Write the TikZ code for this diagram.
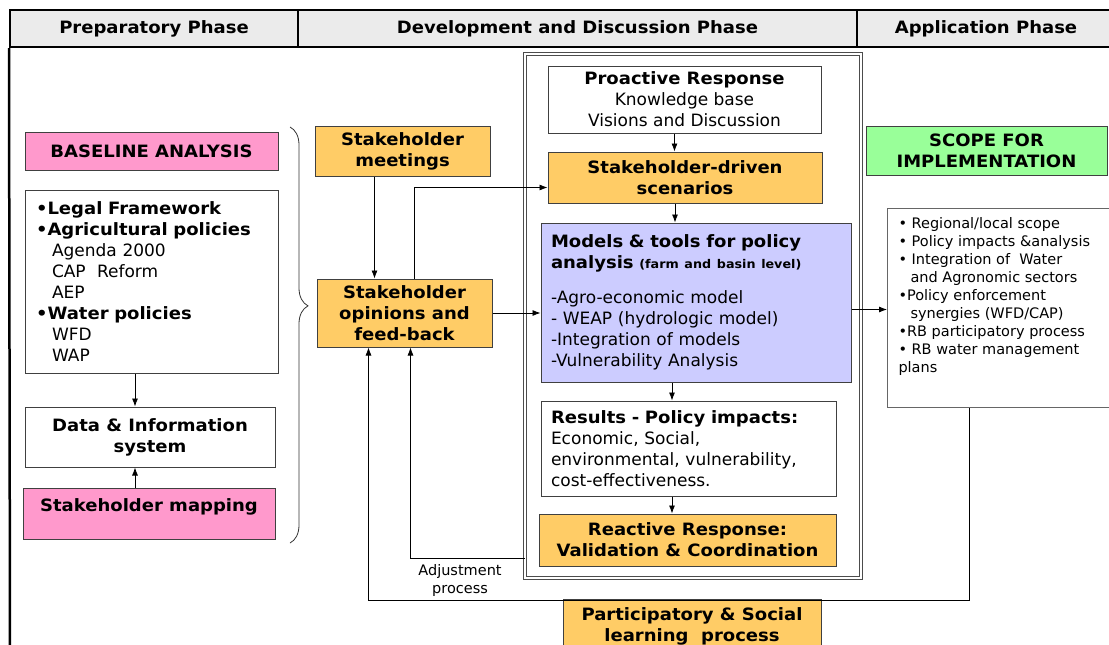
\documentclass[tikz,border=0pt]{standalone}
\usepackage{fontspec}
\setmainfont{DejaVu Sans}[BoldFeatures={FakeStretch=1.06}]
\usepackage{tikz}
\usetikzlibrary{arrows.meta}
\usetikzlibrary{decorations.pathreplacing}
\definecolor{headgray}{HTML}{EBEBEB}
\definecolor{pinkfill}{HTML}{FF99CC}
\definecolor{orangefill}{HTML}{FFCC66}
\definecolor{bluefill}{HTML}{CCCCFF}
\definecolor{greenfill}{HTML}{99FF99}
\newcommand{\mainsize}{\fontsize{17}{21}\selectfont}
\newcommand{\listsize}{\fontsize{14.5}{18}\selectfont}

\begin{document}
\begin{tikzpicture}[x=1pt,y=-1pt,font=\mainsize]
\tikzstyle{phase} = [rectangle, draw=black, line width=2pt, fill=headgray, font=\mainsize\bfseries, minimum height=37, inner sep=0]
\tikzstyle{block} = [rectangle, draw=black!75, line width=1pt, inner sep=0, align=center]
\tikzstyle{pinkbox} = [block, fill=pinkfill, font=\mainsize\bfseries]
\tikzstyle{orangebox} = [block, fill=orangefill, font=\mainsize\bfseries]
\tikzstyle{whitebox} = [block, fill=white]
\tikzstyle{modelbox} = [block, fill=bluefill, align=left]
\tikzstyle{greenbox} = [block, fill=greenfill, font=\mainsize\bfseries]
\tikzstyle{line} = [draw, line width=0.8pt, -{Latex[length=8pt,width=6pt]}]
\useasboundingbox (0,0) rectangle (1109,645);

% phases
\node[phase, minimum width=288] (prep) at (154,28.5) {Preparatory Phase};
\node[phase, minimum width=559] (devel) at (577.5,28.5) {Development and Discussion Phase};
\node[phase, minimum width=258] (appl) at (986,28.5) {Application Phase};
\draw[line width=2.5pt] (prep.south west) -- (10,650);

% preparatory column
\node[pinkbox, minimum width=253, minimum height=38] (base) at (151.5,151) {BASELINE ANALYSIS};
\node[whitebox, minimum width=253, minimum height=183, text width=231, align=left] (legal) at (151.5,281.5)
{\textbf{•Legal Framework}\\
\textbf{•Agricultural policies}\\
\hspace*{16pt}Agenda 2000\\
\hspace*{16pt}CAP\ \ Reform\\
\hspace*{16pt}AEP\\
\textbf{•Water policies}\\
\hspace*{16pt}WFD\\
\hspace*{16pt}WAP};
\node[whitebox, minimum width=250, minimum height=60, font=\mainsize\bfseries] (data) at (150,437) {Data \& Information\\system};
\node[pinkbox, minimum width=252, text height=23, text depth=28, anchor=north] (map) at (149,488) {Stakeholder mapping};
\draw[black!80, line width=0.8pt, decorate, decoration={brace, amplitude=18, aspect=0.43}] (290,127) -- (290,543);

% stakeholders
\node[orangebox, minimum width=175, minimum height=50] (meet) at (402.5,151) {Stakeholder\\meetings};
\node[orangebox, minimum width=175, minimum height=68] (opin) at (404.5,313) {Stakeholder\\opinions and\\feed-back};

% development frame
\node[draw=black!70, line width=1pt, double=white, double distance=1.5pt, minimum width=336, minimum height=524] (frame) at (693,316) {};
\node[whitebox, minimum width=273, minimum height=67] (pro) at (684.5,99.5) {\textbf{Proactive Response}\\Knowledge base\\Visions and Discussion};
\node[orangebox, minimum width=274, minimum height=51] (scen) at (685,177.5) {Stakeholder-driven\\scenarios};
\node[modelbox, minimum width=310, minimum height=159, text width=290] (models) at (696,302.5)
{\textbf{Models \& tools for policy}\\
\textbf{analysis {\fontsize{12}{14}\selectfont (farm and basin level)}}\\[14pt]
-Agro-economic model\\
- WEAP (hydrologic model)\\
-Integration of models\\
-Vulnerability Analysis};
\node[whitebox, minimum width=295, minimum height=95, text width=275, align=left] (results) at (688.5,448.5)
{\textbf{Results - Policy impacts:}\\
Economic, Social,\\
environmental, vulnerability,\\
cost-effectiveness.};
\node[orangebox, minimum width=297, minimum height=52] (react) at (687.5,540) {Reactive Response:\\Validation \& Coordination};
\node[orangebox, minimum width=258, minimum height=54, anchor=north] (partic) at (692,599) {Participatory \& Social\\learning\ \ process};

% application column
\node[greenbox, minimum width=241, minimum height=49] (title) at (986.5,150.5) {SCOPE FOR\\IMPLEMENTATION};
\node[whitebox, draw=black!60, anchor=north west, inner xsep=11, inner ysep=0] (scope) at (887,208)
{\parbox[t][199pt][t]{217pt}{\listsize\vspace*{9pt}%
• Regional/local scope\\
• Policy impacts \&analysis\\
• Integration of\ \ Water\\
\hspace*{12pt}and Agronomic sectors\\
•Policy enforcement\\
\hspace*{12pt}synergies (WFD/CAP)\\
•RB participatory process\\
• RB water management\\
plans}};

% connectors
\path[line] (legal.south -| 135,0) -- (data.north -| 135,0);
\path[line] (map.north -| 135,0) -- (data.south -| 135,0);
\path[line] ([xshift=-28pt]meet.south) -- ([xshift=-28pt]meet.south |- opin.north);
\path[line] ([xshift=10pt]opin.north) |- ([yshift=-10pt]scen.west);
\path[line] (opin.east) -- (opin.east -| models.west);
\path[line] ([xshift=-10pt]pro.south) -- ([xshift=-10pt]pro.south |- scen.north);
\path[line] (scen.south -| 675,0) -- (models.north -| 675,0);
\path[line] (models.south -| 672,0) -- (results.north -| 672,0);
\path[line] (results.south -| 672,0) -- (react.north -| 672,0);
\path[line] ([yshift=-7pt]models.east) -- ([yshift=-7pt]models.east -| scope.west);
\coordinate (adj) at ([yshift=20pt]frame.south west);
\path[line] (adj) -| ([xshift=6pt]opin.south);
\node[font=\listsize, align=center] (adjlabel) at (460,580) {Adjustment\\process};
\coordinate (back) at ([xshift=-38pt]scope.south);
\path[line] (back) -- ++(0,192) -| ([xshift=-36pt]opin.south);
\end{tikzpicture}
\end{document}
